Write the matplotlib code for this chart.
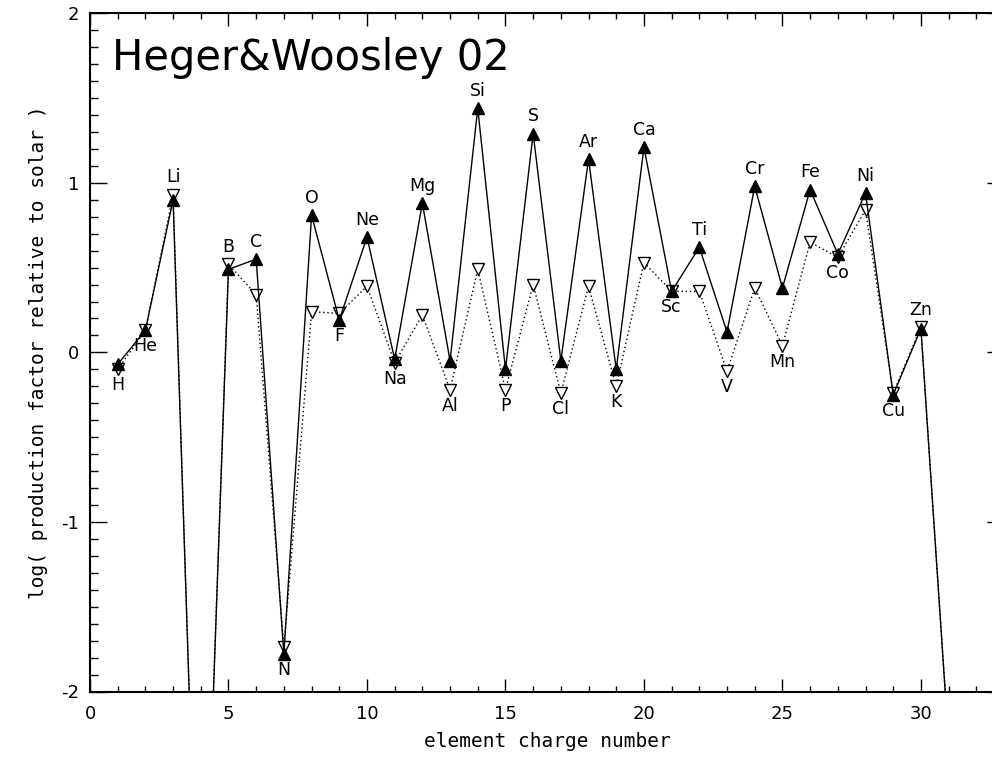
import numpy as np
import matplotlib
matplotlib.use("Agg")
import matplotlib.pyplot as plt
from matplotlib.ticker import MultipleLocator

# --- data ---
charge = list(range(1, 32))
elements = ["H", "He", "Li", "Be", "B", "C", "N", "O", "F", "Ne", "Na", "Mg",
            "Al", "Si", "P", "S", "Cl", "Ar", "K", "Ca", "Sc", "Ti", "V", "Cr",
            "Mn", "Fe", "Co", "Ni", "Cu", "Zn", "Ga"]
# filled triangles, solid line
prod_solid = [-0.07, 0.13, 0.90, -4.1, 0.49, 0.55, -1.78, 0.81, 0.19, 0.68,
              -0.04, 0.88, -0.05, 1.44, -0.10, 1.29, -0.05, 1.14, -0.10, 1.21,
              0.36, 0.62, 0.12, 0.98, 0.38, 0.96, 0.58, 0.94, -0.25, 0.14, -2.3]
# open triangles, dotted line
prod_dotted = [-0.10, 0.13, 0.93, -4.1, 0.52, 0.34, -1.74, 0.24, 0.23, 0.39,
               -0.06, 0.22, -0.22, 0.49, -0.22, 0.40, -0.24, 0.39, -0.20, 0.53,
               0.36, 0.36, -0.11, 0.38, 0.04, 0.65, 0.56, 0.84, -0.24, 0.15, -2.3]
# label placement: +1 above the pair of points, -1 below
label_side = [-1, -1, 1, 0, 1, 1, -1, 1, -1, 1, -1, 1, -1, 1, -1, 1, -1, 1, -1, 1,
              -1, 1, -1, 1, -1, 1, -1, 1, -1, 1, 0]

plt.rcParams['font.family'] = ['DejaVu Sans']
plt.rcParams['axes.unicode_minus'] = False

fig = plt.figure(figsize=(9.92, 7.57), dpi=100)
# right spine sits just past the image edge (x = 33), like the cropped original
ax = fig.add_axes([90 / 992, 65.5 / 757, 914 / 992, 678.2 / 757])

ax.plot(charge, prod_dotted, linestyle=(0, (1, 2)), color='black', lw=1.0,
        marker='v', markersize=8, markerfacecolor='white',
        markeredgecolor='black', markeredgewidth=1.0, zorder=2)
ax.plot(charge, prod_solid, linestyle='-', color='black', lw=1.0,
        marker='^', markersize=8, markerfacecolor='black',
        markeredgecolor='black', zorder=3)

for z, name, a, b, side in zip(charge, elements, prod_solid, prod_dotted, label_side):
    if side == 0:
        continue
    if side > 0:
        ax.annotate(name, (z, max(a, b)), xytext=(0, 6), textcoords='offset points',
                    ha='center', va='bottom', fontsize=12.5)
    else:
        ax.annotate(name, (z, min(a, b)), xytext=(0, -5), textcoords='offset points',
                    ha='center', va='top', fontsize=12.5)

ax.set_xlim(0, 33)
ax.set_ylim(-2, 2)
ax.xaxis.set_major_locator(MultipleLocator(5))
ax.xaxis.set_minor_locator(MultipleLocator(1))
ax.yaxis.set_major_locator(MultipleLocator(1))
ax.yaxis.set_minor_locator(MultipleLocator(0.1))
ax.tick_params(axis='both', which='both', direction='in', top=True, right=True,
               labelsize=13, width=1.0)
ax.tick_params(axis='x', which='major', length=9.5, pad=10)
ax.tick_params(axis='x', which='minor', length=4.5)
ax.tick_params(axis='y', which='major', length=12, pad=8)
ax.tick_params(axis='y', which='minor', length=6)
for s in ax.spines.values():
    s.set_linewidth(1.5)

# the original's vector font is evenly spaced; a mono face keeps the same run length
ax.set_xlabel("element charge number", fontsize=14, family='DejaVu Sans Mono',
              labelpad=6)
ax.set_ylabel("log( production factor relative to solar )", fontsize=14,
              family='DejaVu Sans Mono', labelpad=9)

fig.text(112 / 992, 1 - 70 / 757, "Heger&Woosley 02", fontsize=30, va='baseline')

fig.savefig("out.png", dpi=100)
